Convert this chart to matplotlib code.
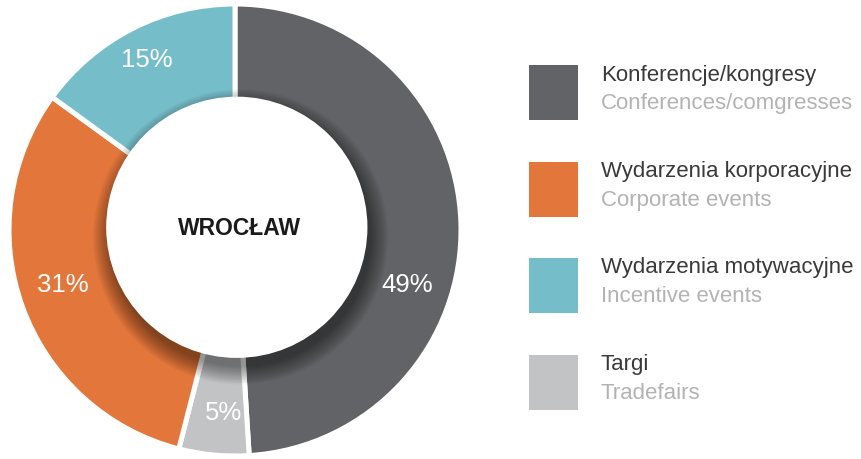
import matplotlib
matplotlib.use('Agg')
import matplotlib.pyplot as plt
from matplotlib.patches import Circle, Rectangle

# data (slice order, clockwise from 12 o'clock)
shares = [49, 5, 31, 15]
pct_labels = ['49%', '5%', '31%', '15%']
names_pl = ['Konferencje/kongresy', 'Targi', 'Wydarzenia korporacyjne',
            'Wydarzenia motywacyjne']
names_en = ['Conferences/comgresses', 'Tradefairs', 'Corporate events',
            'Incentive events']
legend_order = [0, 2, 3, 1]   # legend lists slices in this order
city = 'WROCŁAW'

colors = ['#626366', '#C2C3C5', '#E3763A', '#76BDCA']
# where the percent labels sit (x, y in pie units)
label_pos = [(0.76, -0.24), (-0.05, -0.805), (-0.76, -0.24), (-0.39, 0.755)]

plt.rcParams['font.family'] = ['Liberation Sans', 'DejaVu Sans']

W, H = 862, 460
fig = plt.figure(figsize=(W / 100, H / 100), dpi=100)

# donut
cx, cy, R = 235, 231, 226
ax = fig.add_axes([(cx - R) / W, (H - cy - R) / H, 2 * R / W, 2 * R / H])
ax.pie(shares, colors=colors, startangle=90, counterclock=False, radius=1.0,
       wedgeprops=dict(width=0.47, edgecolor='white', linewidth=3.6))

# soft shadow under the centre disc
for k in range(14):
    ax.add_patch(Circle((0.025, -0.03), 0.575 + k * 0.006, color='black',
                        alpha=0.035, lw=0, zorder=3))
ax.add_patch(Circle((0.008, 0.012), 0.578, color='white', lw=0, zorder=4))

ax.text(0.02, 0.01, city, ha='center', va='center', fontsize=16.5,
        fontweight='bold', color='#1a1a1a', zorder=5)
for (x, y), t in zip(label_pos, pct_labels):
    ax.text(x, y, t, ha='center', va='center', fontsize=18.5, color='white',
            zorder=5)
ax.set_xlim(-1.0, 1.0)
ax.set_ylim(-1.0, 1.0)
ax.set_aspect('equal')
ax.axis('off')

# legend drawn in pixel coordinates
lg = fig.add_axes([0, 0, 1, 1])
lg.set_xlim(0, W)
lg.set_ylim(H, 0)
lg.axis('off')
for row, i in enumerate(legend_order):
    top = 66 + row * 96.5
    lg.add_patch(Rectangle((529, top), 49, 55, color=colors[i], lw=0))
    lg.text(601, top + 9, names_pl[i], ha='left', va='center', fontsize=16,
            color='#3a3a3a')
    lg.text(601, top + 38, names_en[i], ha='left', va='center', fontsize=16,
            color='#b3b3b3')

fig.savefig('out.png', dpi=100, facecolor='white')
